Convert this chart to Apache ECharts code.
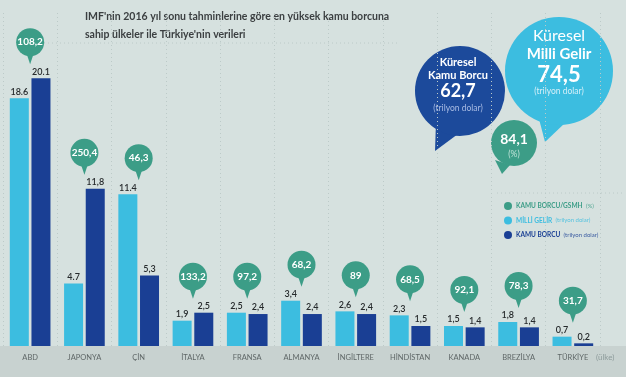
<!DOCTYPE html>
<html>
<head>
<meta charset="utf-8">
<script src="https://cdn.jsdelivr.net/npm/echarts@6/dist/echarts.min.js"></script>
<style>
html,body{margin:0;padding:0;background:#d6e1df;}
#c{width:626px;height:377px;}
</style>
</head>
<body>
<div id="c"></div>
<script>
// ---- data ----
const countries = ['ABD','JAPONYA','ÇİN','İTALYA','FRANSA','ALMANYA','İNGİLTERE','HİNDİSTAN','KANADA','BREZİLYA','TÜRKİYE'];
const milliGelir = [18.6, 4.7, 11.4, 1.9, 2.5, 3.4, 2.6, 2.3, 1.5, 1.8, 0.7];   // trilyon dolar
const kamuBorcu  = [20.1, 11.8, 5.3, 2.5, 2.4, 2.4, 2.4, 1.5, 1.4, 1.4, 0.2];   // trilyon dolar
const borcGsmh   = [108.2, 250.4, 46.3, 133.2, 97.2, 68.2, 89, 68.5, 92.1, 78.3, 31.7]; // %
const kuresel = { kamuBorcu: '62,7', milliGelir: '74,5', oran: '84,1' };
const titleLines = ["IMF'nin 2016 yıl sonu tahminlerine göre en yüksek kamu borcuna", "sahip ülkeler ile Türkiye'nin verileri"];
const legendItems = [
  {name: 'KAMU BORCU/GSMH', unit: '(%)'},
  {name: 'MİLLİ GELİR', unit: '(trilyon dolar)'},
  {name: 'KAMU BORCU', unit: '(trilyon dolar)'}
];
const dotLabels = {light: [0, 1, 2], dark: [0]};

// ---- style ----
const LIGHT = '#3cbde0', DARK = '#1a3f94', GREEN = '#3c9d87', BUBBLE_DARK = '#1c4a9b';
const FONT = 'Lato, "Open Sans", sans-serif';
const fmt = (v, useDot) => useDot ? v.toFixed(1) : String(v).replace('.', ',');

const bubbleData = borcGsmh.map((v, i) => [i, v, Math.max(milliGelir[i], kamuBorcu[i])]);

const chart = echarts.init(document.getElementById('c'));
chart.setOption({
  backgroundColor: '#d6e1df',
  animation: false,
  grid: {left: 3, right: 26, top: 13, bottom: 31},
  xAxis: {
    type: 'category', data: countries,
    axisLine: {show: false}, axisTick: {show: false},
    axisLabel: {color: '#5f6767', fontSize: 7.5, margin: 8, fontFamily: FONT},
    splitLine: {show: true, lineStyle: {type: [1, 3], color: '#bccac8', width: 1}}
  },
  yAxis: {type: 'value', min: 0, max: 25, show: false, splitLine: {show: false}},
  series: [
    {
      type: 'bar', name: 'MİLLİ GELİR', data: milliGelir, barWidth: 19, barGap: '14%',
      itemStyle: {color: LIGHT},
      label: {show: true, position: 'top', distance: 2, color: '#262a2c', fontSize: 9, fontFamily: FONT, fontWeight: 600,
        formatter: p => fmt(p.value, dotLabels.light.includes(p.dataIndex))}
    },
    {
      type: 'bar', name: 'KAMU BORCU', data: kamuBorcu, barWidth: 19,
      itemStyle: {color: DARK},
      label: {show: true, position: 'top', distance: 2, color: '#262a2c', fontSize: 9, fontFamily: FONT, fontWeight: 600,
        formatter: p => fmt(p.value, dotLabels.dark.includes(p.dataIndex))}
    },
    {
      type: 'custom', name: 'KAMU BORCU/GSMH', data: bubbleData, encode: {x: 0, y: 2}, z: 5,
      renderItem: (params, api) => {
        const pt = api.coord([api.value(0), api.value(2)]);
        const cx = pt[0], cy = pt[1] - 36;
        return {type: 'group', children: [
          {type: 'polygon', shape: {points: [[cx - 4, cy + 10], [cx + 4, cy + 10], [cx, cy + 22]]}, style: {fill: GREEN}},
          {type: 'circle', shape: {cx: cx, cy: cy, r: 14}, style: {fill: GREEN}},
          {type: 'text', style: {text: fmt(api.value(1)), x: cx, y: cy, align: 'center', verticalAlign: 'middle',
            fill: '#fff', font: 'bold 10px ' + FONT}}
        ]};
      }
    }
  ],
  graphic: [
    {type: 'rect', shape: {x: 0, y: 346, width: 626, height: 31}, style: {fill: '#c8d2d0'}, z: -10, silent: true},
    {type: 'line', shape: {x1: 40, y1: 43, x2: 400, y2: 43}, style: {stroke: '#bccac8', lineDash: [1, 3]}, z: -5},
    {type: 'line', shape: {x1: 497, y1: 193, x2: 622, y2: 193}, style: {stroke: '#bccac8', lineDash: [1, 3]}, z: -5},
    {type: 'text', style: {text: titleLines[0], x: 85, y: 17, verticalAlign: 'middle', fill: '#3b3f41', font: 'bold 10.5px ' + FONT}},
    {type: 'text', style: {text: titleLines[1], x: 85, y: 35, verticalAlign: 'middle', fill: '#3b3f41', font: 'bold 10.5px ' + FONT}},
    {type: 'text', style: {text: '(ülke)', x: 596, y: 357, verticalAlign: 'middle', fill: '#8d9b9b', font: '8px ' + FONT}},

    // dark bubble
    {type: 'polygon', shape: {points: [[436, 122], [458, 134], [435, 151]]}, style: {fill: BUBBLE_DARK}},
    {type: 'circle', shape: {cx: 460, cy: 91, r: 45}, style: {fill: BUBBLE_DARK}},
    {type: 'text', style: {text: 'Küresel', x: 458, y: 62, align: 'center', verticalAlign: 'middle', fill: '#fff', font: 'bold 11px ' + FONT}},
    {type: 'text', style: {text: 'Kamu Borcu', x: 458, y: 75, align: 'center', verticalAlign: 'middle', fill: '#fff', font: 'bold 11px ' + FONT}},
    {type: 'text', style: {text: kuresel.kamuBorcu, x: 458, y: 91, align: 'center', verticalAlign: 'middle', fill: '#fff', font: 'bold 18px ' + FONT}},
    {type: 'text', style: {text: '(trilyon dolar)', x: 458, y: 108, align: 'center', verticalAlign: 'middle', fill: '#a9bce4', font: '8.5px ' + FONT}},

    // light bubble
    {type: 'polygon', shape: {points: [[538, 115], [566, 122], [545, 142]]}, style: {fill: LIGHT}},
    {type: 'circle', shape: {cx: 559, cy: 71, r: 54}, style: {fill: LIGHT}},
    {type: 'text', style: {text: 'Küresel', x: 559, y: 36, align: 'center', verticalAlign: 'middle', fill: '#fff', font: '16px ' + FONT}},
    {type: 'text', style: {text: 'Milli Gelir', x: 559, y: 54, align: 'center', verticalAlign: 'middle', fill: '#fff', font: 'bold 15px ' + FONT}},
    {type: 'text', style: {text: kuresel.milliGelir, x: 559, y: 75, align: 'center', verticalAlign: 'middle', fill: '#fff', font: 'bold 22px ' + FONT}},
    {type: 'text', style: {text: '(trilyon dolar)', x: 559, y: 91, align: 'center', verticalAlign: 'middle', fill: '#d4eff8', font: '8.5px ' + FONT}},

    // green bubble
    {type: 'polygon', shape: {points: [[495, 160], [510, 165], [502, 174]]}, style: {fill: GREEN}},
    {type: 'circle', shape: {cx: 514, cy: 143, r: 23}, style: {fill: GREEN}},
    {type: 'text', style: {text: kuresel.oran, x: 514, y: 139, align: 'center', verticalAlign: 'middle', fill: '#fff', font: 'bold 14px ' + FONT}},
    {type: 'text', style: {text: '(%)', x: 514, y: 154, align: 'center', verticalAlign: 'middle', fill: '#bfe3d8', font: '8.5px ' + FONT}},

    // legend
    ...legendItems.map((it, k) => {
      const col = [GREEN, LIGHT, DARK][k];
      const y = 206 + k * 14.5;
      return [
        {type: 'circle', shape: {cx: 508, cy: y, r: 4}, style: {fill: col}},
        {type: 'text', style: {x: 516, y: y, verticalAlign: 'middle',
          text: '{a|' + it.name + '} {b|' + it.unit + '}',
          rich: {a: {fill: col, font: 'bold 6.5px ' + FONT}, b: {fill: col, font: '6px ' + FONT, opacity: 0.85}}}}
      ];
    }).flat()
  ]
});
</script>
</body>
</html>
